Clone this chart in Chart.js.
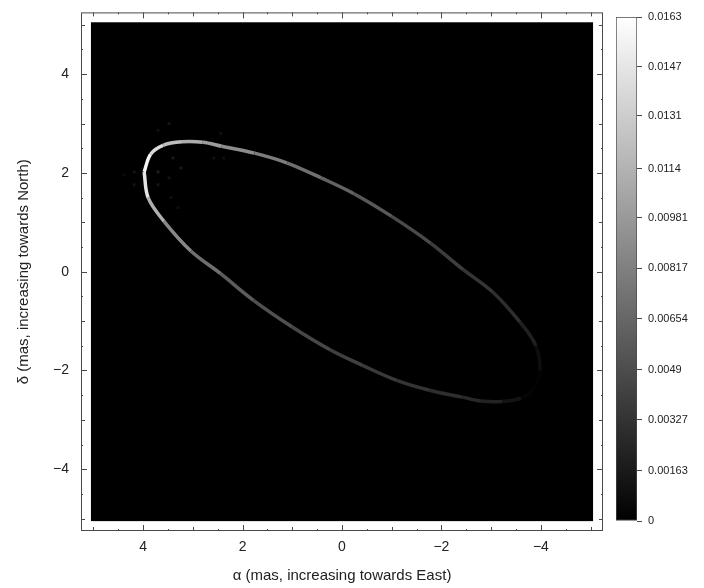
<!DOCTYPE html>
<html lang="en">
<head>
  <meta charset="UTF-8" />
  <title>Ring image</title>
  <script src="https://cdn.jsdelivr.net/npm/chart.js"></script>
  <style>
    body { margin: 0; background: #fff; }
    #wrap { position: relative; width: 704px; height: 588px; }
    #ringChart { position: absolute; left: 0; top: 0; }
    #barChart { position: absolute; left: 606px; top: 0; }
  </style>
</head>
<body>
  <div id="wrap">
    <canvas id="ringChart" width="704" height="588"></canvas>
    <canvas id="barChart" width="98" height="588"></canvas>
  </div>

  <script>
    // ring points (alpha, delta in mas) and their level
    const ringAlpha = [3.98, 3.85, 3.6, 3.22, 2.8, 2.42, 1.76, 1.1, 0.42, -0.24, -1.0, -1.78, -2.44, -3.04, -3.58, -3.9, -3.98,
                       -3.85, -3.6, -3.22, -2.8, -2.42, -1.76, -1.1, -0.42, 0.24, 1.0, 1.78, 2.44, 3.04, 3.58, 3.9, 3.98];
    const ringDelta = [2.02, 2.38, 2.56, 2.63, 2.62, 2.54, 2.4, 2.2, 1.9, 1.58, 1.12, 0.58, 0.04, -0.42, -1.02, -1.5, -2.02,
                       -2.38, -2.56, -2.63, -2.62, -2.54, -2.4, -2.2, -1.9, -1.58, -1.12, -0.58, -0.04, 0.42, 1.02, 1.5, 2.02];
    const ringValue = [0.0163, 0.0150, 0.0128, 0.0115, 0.0105, 0.0095, 0.0084, 0.0075, 0.0067, 0.0060, 0.0052, 0.0042, 0.0036, 0.0032, 0.0027, 0.0014, 0.0003,
                       0.0001, 0.0006, 0.0020, 0.0025, 0.0028, 0.0031, 0.0035, 0.0039, 0.0043, 0.0048, 0.0054, 0.0064, 0.0076, 0.0096, 0.0128, 0.0163];

    // faint speckles around the bright end
    const speckAlpha = [3.48, 3.7, 2.44, 3.4, 3.24, 3.7, 4.18, 4.38, 3.48, 3.7, 2.58, 4.18, 3.44, 3.3, 2.38];
    const speckDelta = [3.0, 2.86, 2.8, 2.3, 2.1, 2.02, 2.02, 1.96, 1.9, 1.76, 2.3, 1.76, 1.5, 1.3, 2.3];
    const speckValue = [0.0013, 0.0010, 0.0010, 0.0016, 0.0016, 0.0019, 0.0013, 0.0008, 0.0013, 0.0013, 0.0010, 0.0011, 0.0010, 0.0008, 0.0010];

    const axisTicks = [-4, -2, 0, 2, 4];
    const xTickLabels = ['\u22124', '\u22122', '0', '2', '4'];
    const yTickLabels = ['\u22124', '\u22122', '0', '2', '4'];

    const barTicks = [0, 0.00163, 0.00327, 0.0049, 0.00654, 0.00817, 0.00981, 0.0114, 0.0131, 0.0147, 0.0163];
    const barTickLabels = ['0', '0.00163', '0.00327', '0.0049', '0.00654', '0.00817', '0.00981', '0.0114', '0.0131', '0.0147', '0.0163'];
    const vMax = 0.0163;

    function gray(v) {
      const g = Math.round(Math.max(0, Math.min(1, v / vMax)) * 255);
      return 'rgb(' + g + ',' + g + ',' + g + ')';
    }

    const frameColor = '#4a4a4a';
    const imgHalf = 5.05;

    // black image background + frame with inward ticks
    const framePlugin = {
      id: 'frame',
      beforeDatasetsDraw(chart) {
        const {ctx, scales: {x, y}} = chart;
        const x0 = x.getPixelForValue(imgHalf), x1 = x.getPixelForValue(-imgHalf);
        const y0 = y.getPixelForValue(imgHalf), y1 = y.getPixelForValue(-imgHalf);
        ctx.save();
        ctx.fillStyle = '#000';
        ctx.fillRect(x0, y0, x1 - x0, y1 - y0);
        ctx.restore();
      },
      afterDraw(chart) {
        const {ctx, chartArea: a, scales: {x, y}} = chart;
        ctx.save();
        ctx.strokeStyle = frameColor;
        ctx.lineWidth = 1;
        ctx.strokeRect(a.left + 0.5, a.top + 0.5, a.right - a.left - 1, a.bottom - a.top - 1);
        ctx.beginPath();
        for (let v = -5; v <= 5; v += 0.5) {
          const len = v % 2 === 0 ? 6 : (v % 1 === 0 ? 4 : 2);
          const px = Math.round(x.getPixelForValue(v)) + 0.5;
          const py = Math.round(y.getPixelForValue(v)) + 0.5;
          ctx.moveTo(px, a.bottom); ctx.lineTo(px, a.bottom - len);
          ctx.moveTo(px, a.top); ctx.lineTo(px, a.top + len);
          ctx.moveTo(a.left, py); ctx.lineTo(a.left + len, py);
          ctx.moveTo(a.right, py); ctx.lineTo(a.right - len, py);
        }
        ctx.stroke();
        ctx.restore();
      }
    };

    new Chart(document.getElementById('ringChart'), {
      type: 'scatter',
      data: {
        datasets: [{
          data: ringAlpha.map((a, i) => ({x: a, y: ringDelta[i]})),
          showLine: true,
          tension: 0.35,
          borderWidth: 3.5,
          pointRadius: 0,
          borderColor: '#888',
          segment: {
            borderColor: c => gray((ringValue[c.p0DataIndex] + ringValue[c.p1DataIndex]) / 2)
          }
        }, {
          data: speckAlpha.map((a, i) => ({x: a, y: speckDelta[i]})),
          pointStyle: 'rect',
          pointRadius: 2,
          borderWidth: 0,
          backgroundColor: speckValue.map(gray)
        }]
      },
      plugins: [framePlugin],
      options: {
        responsive: false,
        devicePixelRatio: 1,
        animation: false,
        layout: { padding: { left: 0, top: 7, right: 101, bottom: 0 } },
        plugins: { legend: { display: false }, tooltip: { enabled: false } },
        scales: {
          x: {
            type: 'linear', min: -5.25, max: 5.25, reverse: true,
            grid: { display: false }, border: { display: false },
            afterBuildTicks: s => { s.ticks = axisTicks.map(v => ({value: v})); },
            afterFit: s => { s.height = 57; },
            ticks: {
              autoSkip: false, maxRotation: 0, padding: 0, color: '#222',
              font: { family: 'Liberation Sans', size: 14 },
              callback: (v, i) => xTickLabels[i]
            },
            title: {
              display: true, text: '\u03b1 (mas, increasing towards East)', color: '#222',
              font: { family: 'Liberation Sans', size: 15 }, padding: { top: 0, bottom: 3 }
            }
          },
          y: {
            type: 'linear', min: -5.25, max: 5.25,
            grid: { display: false }, border: { display: false },
            afterBuildTicks: s => { s.ticks = axisTicks.map(v => ({value: v})); },
            afterFit: s => { s.width = 81; },
            ticks: {
              autoSkip: false, padding: 4, color: '#222',
              font: { family: 'Liberation Sans', size: 14 },
              callback: (v, i) => yTickLabels[i]
            },
            title: {
              display: true, text: '\u03b4 (mas, increasing towards North)', color: '#222',
              font: { family: 'Liberation Sans', size: 15 }, padding: { top: 15, bottom: 0 }
            }
          }
        }
      }
    });

    // colour bar
    new Chart(document.getElementById('barChart'), {
      type: 'bar',
      data: {
        labels: [''],
        datasets: [{
          data: [[0, vMax]],
          barPercentage: 1,
          categoryPercentage: 1,
          borderWidth: 1,
          borderColor: frameColor,
          borderSkipped: false,
          backgroundColor: c => {
            const a = c.chart.chartArea;
            if (!a) return '#888';
            const g = c.chart.ctx.createLinearGradient(0, a.bottom, 0, a.top);
            g.addColorStop(0, '#000');
            g.addColorStop(1, '#fff');
            return g;
          }
        }]
      },
      options: {
        responsive: false,
        devicePixelRatio: 1,
        animation: false,
        layout: { padding: { left: 10, top: 17, right: 0, bottom: 67 } },
        plugins: { legend: { display: false }, tooltip: { enabled: false } },
        scales: {
          x: { display: false },
          y: {
            position: 'right', min: 0, max: vMax,
            border: { display: false },
            grid: { drawOnChartArea: false, tickLength: 5, color: frameColor },
            afterBuildTicks: s => { s.ticks = barTicks.map(v => ({value: v})); },
            afterFit: s => { s.width = 67; },
            ticks: {
              autoSkip: false, padding: 6, color: '#222',
              font: { family: 'Liberation Sans', size: 11 },
              callback: (v, i) => barTickLabels[i]
            }
          }
        }
      }
    });
  </script>
</body>
</html>
